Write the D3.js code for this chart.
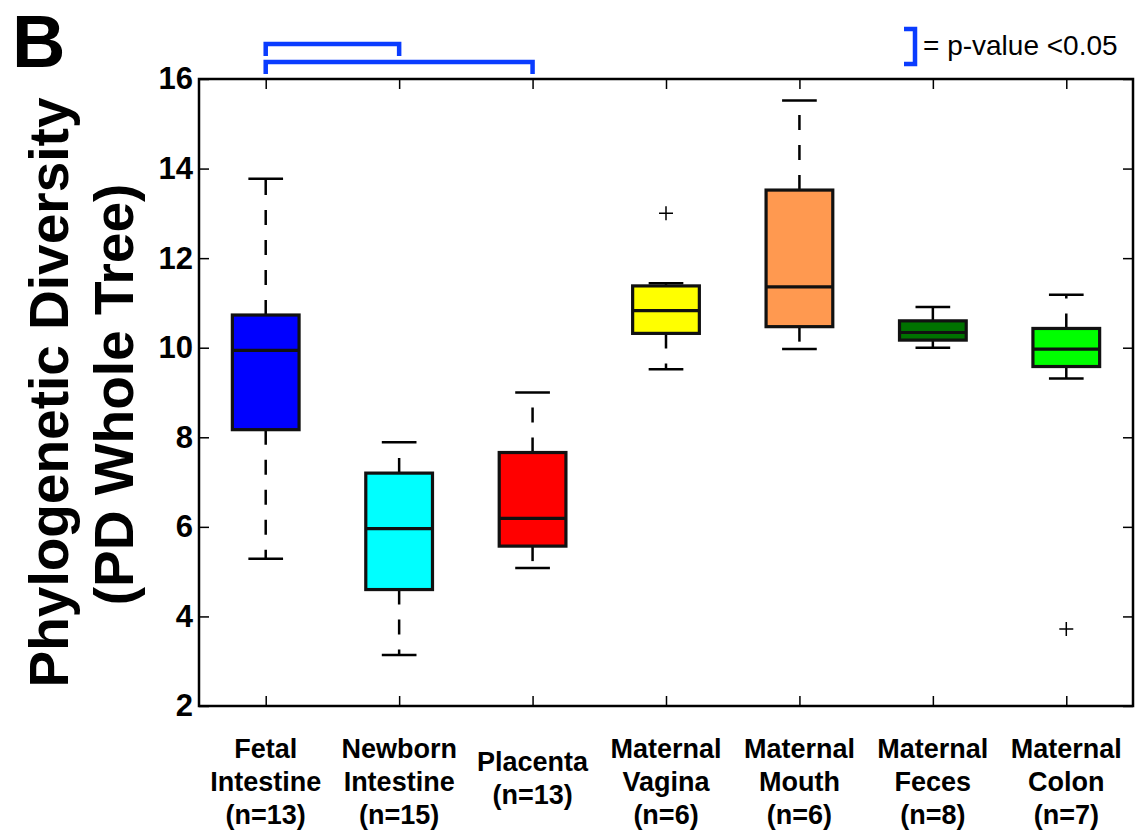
<!DOCTYPE html>
<html lang="en">
  <head>
    <meta charset="UTF-8" />
    <!-- Load d3.js -->
    <script src="https://d3js.org/d3.v7.min.js"></script>
    <title>Phylogenetic Diversity boxplot</title>
    <style>
      body { margin: 0; background: #fff; }
      text { font-family: "Liberation Sans", Arial, sans-serif; }
    </style>
  </head>
  <body>
    <div id="my_dataviz"></div>

    <script>
      // group labels, one array of lines per box
      var labelLines = [
        ["Fetal", "Intestine", "(n=13)"],
        ["Newborn", "Intestine", "(n=15)"],
        ["Placenta", "(n=13)"],
        ["Maternal", "Vagina", "(n=6)"],
        ["Maternal", "Mouth", "(n=6)"],
        ["Maternal", "Feces", "(n=8)"],
        ["Maternal", "Colon", "(n=7)"]
      ]

      // box statistics
      var whiskerLow  = [5.29, 3.14, 5.08, 9.52, 9.97, 10.00, 9.31]
      var q1          = [8.17, 4.60, 5.57, 10.32, 10.47, 10.17, 9.58]
      var median      = [9.94, 5.96, 6.19, 10.83, 11.36, 10.34, 9.97]
      var q3          = [10.73, 7.20, 7.66, 11.38, 13.52, 10.60, 10.43]
      var whiskerHigh = [13.77, 7.89, 9.00, 11.44, 15.52, 10.91, 11.18]
      var outliers    = [[], [], [], [13.0], [], [], [3.72]]

      var boxColors = ["#0000ff", "#00ffff", "#ff0000", "#ffff00", "#ff9950", "#007200", "#00ff00"]

      var yTicks = [2, 4, 6, 8, 10, 12, 14, 16]

      // significance brackets: pairs of group indexes
      var sigPairs = [[0, 1], [0, 2]]

      var width = 1143
          height = 832

      var svg = d3.select("#my_dataviz")
        .append("svg")
          .attr("width", width)
          .attr("height", height)

      var x = d3.scaleLinear().domain([0.5, 7.5]).range([199, 1133])
      var y = d3.scaleLinear().domain([2, 16]).range([706, 79])

      var boxHalf = 0.25, capHalf = 0.13

      // axes with inward ticks (left/bottom with labels, top/right bare)
      var gy = svg.append("g")
        .attr("transform", "translate(" + x(0.5) + ",0)")
        .call(d3.axisLeft(y).tickValues(yTicks).tickSizeInner(-10).tickSizeOuter(0).tickPadding(6))
      gy.selectAll("text")
        .style("font-size", "31px").style("font-weight", "bold").attr("fill", "#000")

      svg.append("g")
        .attr("transform", "translate(" + x(7.5) + ",0)")
        .call(d3.axisRight(y).tickValues(yTicks).tickSizeInner(-10).tickSizeOuter(0).tickFormat(""))

      svg.append("g")
        .attr("transform", "translate(0," + y(2) + ")")
        .call(d3.axisBottom(x).tickValues(d3.range(1, 8)).tickSizeInner(-10).tickSizeOuter(0).tickFormat(""))

      svg.append("g")
        .attr("transform", "translate(0," + y(16) + ")")
        .call(d3.axisTop(x).tickValues(d3.range(1, 8)).tickSizeInner(-10).tickSizeOuter(0).tickFormat(""))

      svg.selectAll(".tick line").attr("stroke", "#000").attr("stroke-width", 1.5)
      svg.selectAll(".domain").remove()

      // plot frame
      svg.append("rect")
        .attr("x", x(0.5)).attr("y", y(16))
        .attr("width", x(7.5) - x(0.5)).attr("height", y(2) - y(16))
        .attr("fill", "none").attr("stroke", "#000").attr("stroke-width", 2.5)

      var idx = d3.range(labelLines.length)
      var boxes = svg.append("g").selectAll("g").data(idx).enter().append("g")

      // dashed whiskers, drawn from the box edge outward
      boxes.append("line")
        .attr("x1", function(i) { return x(i + 1) }).attr("x2", function(i) { return x(i + 1) })
        .attr("y1", function(i) { return y(q3[i]) }).attr("y2", function(i) { return y(whiskerHigh[i]) })
        .attr("stroke", "#000").attr("stroke-width", 2.5).attr("stroke-dasharray", "15,15")
      boxes.append("line")
        .attr("x1", function(i) { return x(i + 1) }).attr("x2", function(i) { return x(i + 1) })
        .attr("y1", function(i) { return y(q1[i]) }).attr("y2", function(i) { return y(whiskerLow[i]) })
        .attr("stroke", "#000").attr("stroke-width", 2.5).attr("stroke-dasharray", "15,15")

      // caps
      boxes.append("line")
        .attr("x1", function(i) { return x(i + 1 - capHalf) }).attr("x2", function(i) { return x(i + 1 + capHalf) })
        .attr("y1", function(i) { return y(whiskerHigh[i]) }).attr("y2", function(i) { return y(whiskerHigh[i]) })
        .attr("stroke", "#000").attr("stroke-width", 2.5)
      boxes.append("line")
        .attr("x1", function(i) { return x(i + 1 - capHalf) }).attr("x2", function(i) { return x(i + 1 + capHalf) })
        .attr("y1", function(i) { return y(whiskerLow[i]) }).attr("y2", function(i) { return y(whiskerLow[i]) })
        .attr("stroke", "#000").attr("stroke-width", 2.5)

      // boxes
      boxes.append("rect")
        .attr("x", function(i) { return x(i + 1 - boxHalf) })
        .attr("width", function(i) { return x(i + 1 + boxHalf) - x(i + 1 - boxHalf) })
        .attr("y", function(i) { return y(q3[i]) })
        .attr("height", function(i) { return y(q1[i]) - y(q3[i]) })
        .attr("fill", function(i) { return boxColors[i] })
        .attr("stroke", "#111").attr("stroke-width", 3.2)

      // medians
      boxes.append("line")
        .attr("x1", function(i) { return x(i + 1 - boxHalf) }).attr("x2", function(i) { return x(i + 1 + boxHalf) })
        .attr("y1", function(i) { return y(median[i]) }).attr("y2", function(i) { return y(median[i]) })
        .attr("stroke", "#111").attr("stroke-width", 3.2)

      // outliers as '+'
      var outPts = []
      outliers.forEach(function(list, i) { list.forEach(function(v) { outPts.push({ g: i, v: v }) }) })
      svg.append("g").selectAll("path").data(outPts).enter().append("path")
        .attr("d", function(d) {
          var cx = x(d.g + 1), cy = y(d.v)
          return "M" + (cx - 7) + "," + cy + "H" + (cx + 7) + "M" + cx + "," + (cy - 7) + "V" + (cy + 7)
        })
        .attr("stroke", "#000").attr("stroke-width", 1.5).attr("fill", "none")

      // x tick labels, multi-line
      var xl = svg.append("g").selectAll("text").data(idx).enter().append("text")
        .attr("text-anchor", "middle")
        .style("font-size", "27px").style("font-weight", "bold")
        .attr("transform", function(i) {
          var base = labelLines[i].length === 3 ? 758 : 771
          return "translate(" + x(i + 1) + "," + base + ")"
        })
      xl.selectAll("tspan").data(function(i) { return labelLines[i] }).enter().append("tspan")
        .attr("x", 0).attr("y", function(d, k) { return k * 33 })
        .text(function(d) { return d })

      // y axis title
      svg.append("text")
        .attr("transform", "translate(68," + ((y(2) + y(16)) / 2) + ") rotate(-90)")
        .attr("text-anchor", "middle")
        .style("font-size", "55px").style("font-weight", "bold")
        .text("Phylogenetic Diversity")
      svg.append("text")
        .attr("transform", "translate(133," + ((y(2) + y(16)) / 2 + 2) + ") rotate(-90)")
        .attr("text-anchor", "middle")
        .style("font-size", "55px").style("font-weight", "bold")
        .text("(PD Whole Tree)")

      // panel letter
      svg.append("text")
        .attr("x", 12).attr("y", 67)
        .style("font-size", "74px").style("font-weight", "bold")
        .text("B")

      // significance brackets
      var bracketLevels = [{ top: 44, leg: 56 }, { top: 62, leg: 74 }]
      svg.append("g").selectAll("path").data(sigPairs).enter().append("path")
        .attr("d", function(p, k) {
          var b = bracketLevels[k]
          return "M" + x(p[0] + 1) + "," + b.leg + "V" + b.top + "H" + x(p[1] + 1) + "V" + b.leg
        })
        .attr("fill", "none").attr("stroke", "#0a3cff").attr("stroke-width", 4.5)

      // legend
      svg.append("path")
        .attr("d", "M904,29H915V64H904")
        .attr("fill", "none").attr("stroke", "#0a3cff").attr("stroke-width", 4.5)
      svg.append("text")
        .attr("x", 923).attr("y", 55)
        .style("font-size", "28px")
        .text("= p-value <0.05")
    </script>
  </body>
</html>
